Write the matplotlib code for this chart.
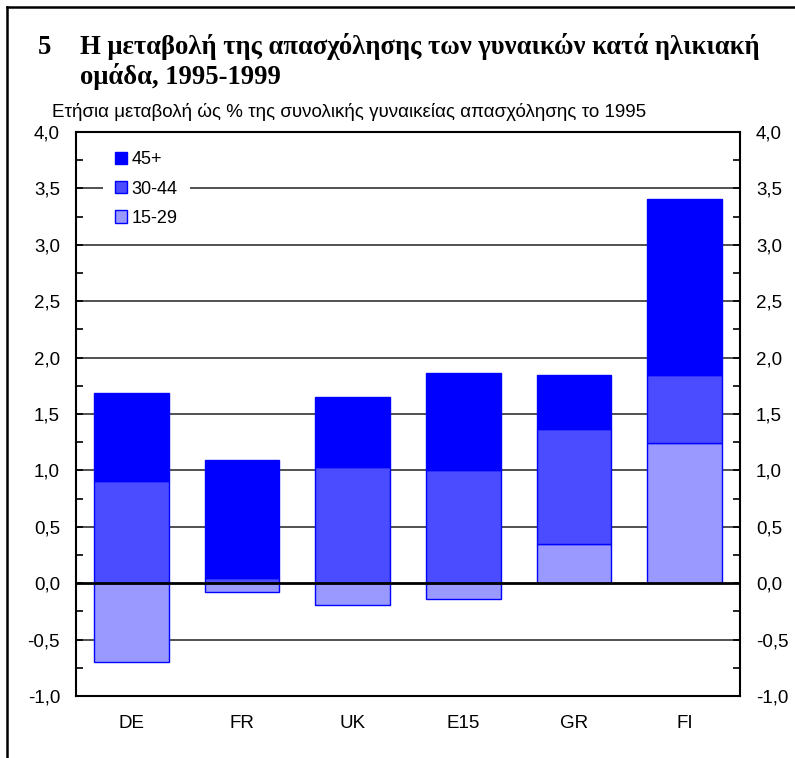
import matplotlib
matplotlib.use("Agg")
import matplotlib.pyplot as plt
import numpy as np
from matplotlib.ticker import MultipleLocator, FuncFormatter
from matplotlib.lines import Line2D

categories = ["DE", "FR", "UK", "E15", "GR", "FI"]
age_15_29 = [-0.70, -0.08, -0.19, -0.14, 0.35, 1.24]
age_30_44 = [0.91, 0.05, 1.03, 1.00, 1.02, 0.61]
age_45p = [0.78, 1.04, 0.62, 0.86, 0.48, 1.56]
series_names = ["15-29", "30-44", "45+"]
colors = ["#9999FF", "#4B4BFF", "#0000FF"]

title_num = "5"
title_line1 = "Η μεταβολή της απασχόλησης των γυναικών κατά ηλικιακή"
title_line2 = "ομάδα, 1995-1999"
subtitle = "Ετήσια μεταβολή ώς % της συνολικής γυναικείας απασχόλησης το 1995"

W, H = 795, 758
fig = plt.figure(figsize=(W / 100, H / 100), dpi=100)
ax = fig.add_axes([76 / W, 1 - 696 / H, (740 - 76) / W, (696 - 132) / H])

x = np.arange(len(categories))
width = 0.676
series = [age_15_29, age_30_44, age_45p]
pos_base = np.zeros(len(categories))
neg_base = np.zeros(len(categories))
handles = []
for vals, c, name in zip(series, colors, series_names):
    vals = np.array(vals)
    bottoms = np.where(vals >= 0, pos_base, neg_base)
    b = ax.bar(x, vals, width, bottom=bottoms, color=c, edgecolor="#0000FF",
               linewidth=1.0, zorder=3, label=name)
    handles.append(b)
    pos_base = pos_base + np.where(vals >= 0, vals, 0)
    neg_base = neg_base + np.where(vals < 0, vals, 0)

FS = 13.5
ax.set_xlim(-0.5, len(categories) - 0.5)
ax.set_ylim(-1.0, 4.0)
ax.set_xticks(x)
ax.set_xticklabels(categories, fontsize=FS, family="Liberation Sans")
ax.tick_params(axis="x", length=0, pad=14)

ax.yaxis.set_major_locator(MultipleLocator(0.5))
ax.yaxis.set_minor_locator(MultipleLocator(0.25))
fmt = FuncFormatter(lambda v, p: f"{v:.1f}".replace(".", ","))
ax.yaxis.set_major_formatter(fmt)
ax.tick_params(axis="y", which="both", direction="in", left=True, right=True,
               labelleft=True, labelright=True, length=5, width=1.2,
               labelsize=FS, pad=11.5, colors="black")
for lab in ax.get_yticklabels():
    lab.set_family("Liberation Sans")

for yv in np.arange(-0.5, 4.0, 0.5):
    if abs(yv) < 1e-9:
        continue
    ax.axhline(yv, color="#333333", linewidth=1.2, zorder=1)
ax.axhline(0, color="black", linewidth=2.0, zorder=4)

for s in ax.spines.values():
    s.set_linewidth(1.5)
    s.set_color("black")
    s.set_zorder(6)

leg = ax.legend(handles=handles[::-1], loc="upper left",
                bbox_to_anchor=(0.040, 0.988), frameon=True, fancybox=False,
                edgecolor="none", facecolor="white", framealpha=1,
                prop={"family": "Liberation Sans", "size": 13},
                handlelength=0.67, handleheight=0.67, handletextpad=0.25,
                labelspacing=0.68, borderpad=0.7, borderaxespad=0)
leg.set_zorder(5)

# frame lines
fig.add_artist(Line2D([7 / W, 7 / W], [0, 1 - 7 / H], transform=fig.transFigure,
                      color="black", linewidth=1.8))
fig.add_artist(Line2D([7 / W, 1], [1 - 7 / H, 1 - 7 / H], transform=fig.transFigure,
                      color="black", linewidth=1.8))

tkw = dict(fontweight="bold", family="Liberation Serif", va="baseline", ha="left")
t1 = fig.text(80 / W, 1 - 54 / H, title_line1, fontsize=17, **tkw)
fig.canvas.draw()
wpx = t1.get_window_extent().width
tfs = 17 * 677 / wpx
t1.set_fontsize(tfs)
fig.text(80 / W, 1 - 84 / H, title_line2, fontsize=tfs, **tkw)
fig.text(38 / W, 1 - 54 / H, title_num, fontsize=tfs, **tkw)
fig.text(52 / W, 1 - 112 / H, subtitle, fontsize=FS, family="Liberation Sans",
         va="center", ha="left")

fig.savefig("out.png", dpi=100)
